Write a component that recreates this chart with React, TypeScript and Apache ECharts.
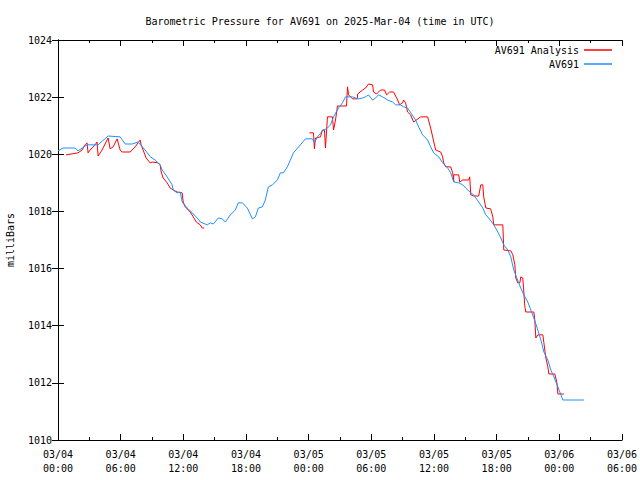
import React, { useEffect, useRef } from "react";
import * as echarts from "echarts";

const TITLE = "Barometric Pressure for AV691 on 2025-Mar-04 (time in UTC)";
const Y_NAME = "milliBars";
const SERIES_NAMES = ["AV691 Analysis", "AV691"];
const COLORS = ["#ff0000", "#1e90ff"];

// hours since 03/04 00:00 UTC, pressure in mb
const av691: [number, number][] = [
  [0, 1020.12], [0.48, 1020.22], [1.63, 1020.22], [1.92, 1020.12], [2.78, 1020.33], [3.84, 1020.33],
  [4.8, 1020.64], [5.95, 1020.61], [6.43, 1020.36], [7.1, 1020.36], [7.67, 1020.43], [8.34, 1020.15],
  [8.82, 1019.92], [9.3, 1019.8], [9.78, 1019.63], [9.97, 1019.45], [10.45, 1019.21], [10.93, 1018.93],
  [11.03, 1018.75], [11.41, 1018.65], [11.7, 1018.68], [11.89, 1018.33], [12.37, 1018.12], [12.85, 1017.95],
  [13.33, 1017.77], [13.62, 1017.63], [14.29, 1017.53], [14.58, 1017.6], [14.87, 1017.56], [15.35, 1017.77],
  [15.73, 1017.74], [16.02, 1017.63], [16.5, 1017.88], [16.98, 1018.05], [17.26, 1018.3], [17.65, 1018.3],
  [18.13, 1018.12], [18.61, 1017.74], [18.9, 1017.81], [19.18, 1018.12], [19.57, 1018.16], [19.85, 1018.4],
  [20.14, 1018.86], [20.53, 1018.93], [21.01, 1019.1], [21.29, 1019.35], [21.58, 1019.35], [21.96, 1019.56],
  [22.54, 1020.05], [23.21, 1020.33], [23.69, 1020.54], [24.36, 1020.54], [24.55, 1020.4], [24.84, 1020.61],
  [25.32, 1020.82], [25.8, 1020.92], [26.09, 1021.03], [26.38, 1021.31], [26.86, 1021.62], [27.24, 1021.8],
  [27.53, 1022.01], [28.2, 1022.01], [28.49, 1021.97], [28.77, 1021.94], [29.16, 1021.97], [29.45, 1022.01],
  [29.73, 1022.08], [30.12, 1021.9], [30.4, 1021.97], [30.69, 1022.08], [31.08, 1022.01], [31.56, 1021.9],
  [32.04, 1021.83], [32.32, 1021.73], [32.8, 1021.73], [33.09, 1021.66], [33.47, 1021.62], [34.24, 1021.2],
  [34.53, 1020.96], [34.91, 1020.68], [35.39, 1020.5], [35.68, 1020.26], [35.97, 1020.05], [36.45, 1019.91],
  [36.83, 1019.7], [37.31, 1019.52], [37.6, 1019.35], [37.89, 1019.03], [38.37, 1019.0], [38.75, 1018.93],
  [39.04, 1018.82], [39.52, 1018.65], [39.8, 1018.58], [40.28, 1018.33], [40.67, 1018.12], [40.96, 1017.88],
  [41.24, 1017.77], [41.72, 1017.53], [42.11, 1017.28], [42.4, 1017.07], [42.68, 1016.83], [43.07, 1016.65],
  [43.35, 1016.41], [43.64, 1015.95], [43.93, 1015.67], [44.31, 1015.32], [44.6, 1015.08], [44.98, 1014.83],
  [45.27, 1014.55], [45.56, 1014.27], [45.94, 1013.85], [46.23, 1013.5], [46.52, 1013.08], [46.9, 1012.8],
  [47.19, 1012.45], [47.48, 1012.21], [47.86, 1011.86], [48.15, 1011.58], [48.34, 1011.4], [50.36, 1011.4],
];

const analysisSeg1: [number, number][] = [
  [0.77, 1019.98], [1.92, 1020.05], [2.3, 1020.15], [2.59, 1020.33], [2.78, 1020.4], [2.88, 1020.05],
  [3.07, 1020.15], [3.55, 1020.33], [3.74, 1020.43], [3.84, 1019.94], [4.22, 1020.15], [4.6, 1020.43],
  [4.8, 1020.57], [4.99, 1020.19], [5.28, 1020.26], [5.66, 1020.54], [5.95, 1020.15], [6.14, 1020.08],
  [6.91, 1020.08], [7.39, 1020.26], [7.86, 1020.5], [7.96, 1020.33], [8.44, 1019.87], [8.82, 1019.7],
  [9.02, 1019.73], [9.59, 1019.7], [9.78, 1019.63], [9.88, 1019.38], [10.07, 1019.17], [10.45, 1019.0],
  [10.74, 1018.82], [11.03, 1018.75], [11.41, 1018.68], [11.89, 1018.65], [11.99, 1018.33], [12.18, 1018.16],
  [12.66, 1017.98], [12.95, 1017.81], [13.24, 1017.63], [13.62, 1017.53], [13.81, 1017.42], [14.0, 1017.42],
];

const analysisSeg2: [number, number][] = [
  [24.07, 1020.75], [24.46, 1020.75], [24.55, 1020.19], [24.65, 1020.57], [25.13, 1020.61], [25.32, 1020.85],
  [25.51, 1020.85], [25.61, 1020.22], [25.8, 1021.31], [26.28, 1021.31], [26.38, 1020.85], [26.57, 1021.2],
  [26.76, 1021.69], [27.62, 1021.69], [27.72, 1022.36], [27.82, 1022.08], [28.2, 1021.94], [28.68, 1021.94],
  [28.68, 1022.11], [29.16, 1022.25], [29.45, 1022.32], [29.73, 1022.46], [30.12, 1022.43], [30.21, 1022.18],
  [30.5, 1022.11], [30.88, 1022.25], [31.27, 1022.25], [31.46, 1022.08], [31.75, 1022.18], [32.13, 1022.18],
  [32.52, 1021.9], [32.71, 1021.73], [32.99, 1021.8], [33.09, 1021.9], [33.28, 1021.8], [33.47, 1021.48],
  [33.76, 1021.38], [34.05, 1021.13], [34.72, 1021.31], [35.39, 1021.31], [35.68, 1020.92], [35.87, 1020.61],
  [36.16, 1020.15], [36.64, 1020.08], [36.83, 1019.91], [36.93, 1019.7], [37.12, 1019.56], [37.6, 1019.56],
  [37.79, 1019.35], [37.89, 1019.03], [37.89, 1019.28], [38.37, 1019.28], [38.46, 1019.03], [38.75, 1019.1],
  [39.32, 1019.1], [39.42, 1019.21], [39.52, 1018.58], [39.8, 1018.54], [40.28, 1018.54], [40.48, 1018.93],
  [40.67, 1018.93], [40.76, 1018.51], [40.96, 1018.12], [41.43, 1018.09], [41.63, 1017.81], [41.72, 1017.53],
  [42.59, 1017.53], [42.68, 1016.65], [43.35, 1016.62], [43.55, 1016.48], [43.74, 1016.13], [43.83, 1015.67],
  [44.02, 1015.5], [44.22, 1015.5], [44.31, 1015.71], [44.5, 1015.67], [44.6, 1015.18], [44.7, 1014.66],
  [44.79, 1014.48], [45.56, 1014.48], [45.65, 1014.2], [45.75, 1013.57], [45.94, 1013.68], [46.42, 1013.68],
  [46.52, 1013.4], [46.71, 1012.87], [46.9, 1012.56], [47.0, 1012.31], [47.57, 1012.31], [47.77, 1012.0],
  [47.86, 1011.61], [48.44, 1011.61],
];

const X_MIN = 0;
const X_MAX = 54;
const X_STEP = 6;
const Y_MIN = 1010;
const Y_MAX = 1024;
const Y_STEP = 2;

const FONT = "DejaVu Sans Mono";

function fmtX(h: number): string {
  const day = 4 + Math.floor(h / 24);
  const hh = Math.round(h % 24);
  return `03/${String(day).padStart(2, "0")}\n${String(hh).padStart(2, "0")}:00`;
}

export default function App() {
  const ref = useRef<HTMLDivElement>(null);
  useEffect(() => {
    if (!ref.current) return;
    const chart = echarts.init(ref.current, undefined, { renderer: "svg" });
    const axisLine = { show: true, lineStyle: { color: "#000", width: 1 } };
    const textStyle = { fontFamily: FONT, fontSize: 10, color: "#000" };
    const tick = { show: true, inside: true, length: 6, lineStyle: { color: "#000" } };
    const minor = { show: true, splitNumber: 2, length: 3, lineStyle: { color: "#000" } };
    const analysisData: any[] = [...analysisSeg1, [19, "-"], ...analysisSeg2];
    chart.setOption({
      animation: false,
      backgroundColor: "#fff",
      textStyle,
      title: {
        text: TITLE,
        left: "center",
        top: 11,
        textStyle: { ...textStyle, fontWeight: "normal" },
      },
      legend: {
        orient: "vertical",
        right: 28,
        top: 44,
        padding: 0,
        align: "right",
        itemWidth: 28,
        itemHeight: 1.5,
        itemGap: 2,
        icon: "rect",
        textStyle: { ...textStyle, lineHeight: 12 },
        data: SERIES_NAMES,
      },
      grid: { left: 58, right: 18, top: 40, bottom: 40, containLabel: false, outerBoundsMode: "none" },
      xAxis: [
        {
          type: "value",
          min: X_MIN,
          max: X_MAX,
          interval: X_STEP,
          position: "bottom",
          axisLine,
          axisTick: tick,
          minorTick: minor,
          splitLine: { show: false },
          axisLabel: { ...textStyle, margin: 7, lineHeight: 14, formatter: (v: number) => fmtX(v) },
        },
        {
          type: "value",
          min: X_MIN,
          max: X_MAX,
          interval: X_STEP,
          position: "top",
          axisLine,
          axisTick: tick,
          minorTick: minor,
          splitLine: { show: false },
          axisLabel: { show: false },
        },
      ],
      yAxis: [
        {
          type: "value",
          min: Y_MIN,
          max: Y_MAX,
          interval: Y_STEP,
          position: "left",
          name: Y_NAME,
          nameLocation: "middle",
          nameGap: 43,
          nameRotate: 90,
          nameTextStyle: textStyle,
          axisLine,
          axisTick: tick,
          splitLine: { show: false },
          axisLabel: { ...textStyle, margin: 6, formatter: (v: number) => String(v) },
        },
        {
          type: "value",
          min: Y_MIN,
          max: Y_MAX,
          interval: Y_STEP,
          position: "right",
          axisLine,
          axisTick: tick,
          splitLine: { show: false },
          axisLabel: { show: false },
        },
      ],
      series: [
        {
          name: SERIES_NAMES[0],
          type: "line",
          data: analysisData,
          showSymbol: false,
          symbol: "none",
          connectNulls: false,
          color: COLORS[0],
          lineStyle: { color: COLORS[0], width: 1 },
          xAxisIndex: 0,
          yAxisIndex: 0,
        },
        {
          name: SERIES_NAMES[1],
          type: "line",
          data: av691,
          showSymbol: false,
          symbol: "none",
          color: COLORS[1],
          lineStyle: { color: COLORS[1], width: 1 },
          xAxisIndex: 0,
          yAxisIndex: 0,
        },
      ],
    });
    return () => chart.dispose();
  }, []);
  return <div ref={ref} style={{ width: 640, height: 480, position: "absolute", left: 0, top: 0 }} />;
}
